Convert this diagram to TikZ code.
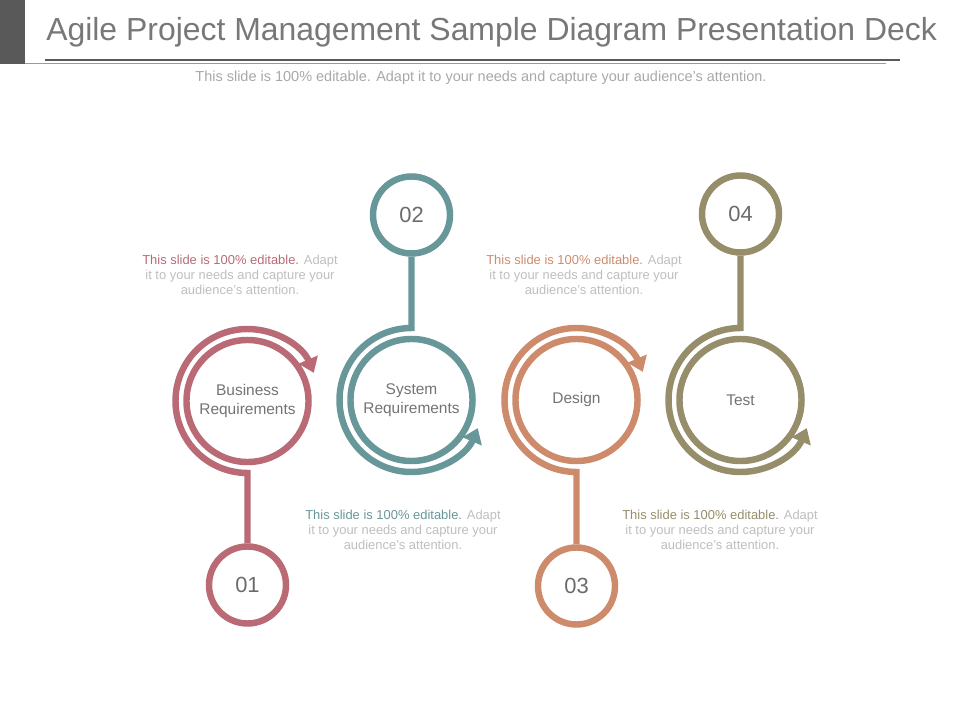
\documentclass[tikz,border=0pt]{standalone}
\usepackage{fontspec}
\setmainfont{Liberation Sans}
\usetikzlibrary{arrows.meta}
\definecolor{pinkc}{HTML}{B96A75}
\definecolor{tealc}{HTML}{68979A}
\definecolor{orangec}{HTML}{CD8B6C}
\definecolor{olivec}{HTML}{968D6A}
\definecolor{bargrey}{HTML}{595959}
\definecolor{titlegrey}{HTML}{787878}
\definecolor{labelgrey}{HTML}{737373}
\definecolor{numgrey}{HTML}{6B6B6B}
\definecolor{lightgrey}{HTML}{BEBEBE}
\definecolor{subgrey}{HTML}{A8A8A8}
\tikzset{
  ring/.style={line width=4.6pt, line join=miter},
  bigring/.style={circle, draw, ring, minimum size=3.05cm, inner sep=0pt,
    text=labelgrey, align=center, font=\fontsize{11}{13.5}\selectfont},
  numring/.style={circle, draw, ring, minimum size=1.925cm, inner sep=0pt,
    text=numgrey, font=\fontsize{15.6}{18}\selectfont},
  blurb/.style={text=lightgrey, align=center, inner sep=0pt,
    font=\fontsize{9.2}{10.6}\selectfont},
  turn/.style={ring, -{Triangle[width=0.5cm,length=0.36cm]}},
}
\begin{document}
\begin{tikzpicture}[x=0.025cm,y=0.025cm]
\useasboundingbox (0,0) rectangle (960,-720);
% header
\fill[bargrey] (0,0) rectangle (25,-64);
\node[anchor=base west, inner sep=0pt, text=titlegrey, font=\fontsize{22.7}{26}\selectfont] (title) at (46,-41) {Agile Project Management Sample Diagram Presentation Deck};
\draw[bargrey, line width=1.3pt] (45,-60) -- (900,-60);
\draw[bargrey!60, line width=0.5pt] (25,-63.5) -- (886,-63.5);
\node[text=subgrey, inner sep=0pt, font=\fontsize{10.3}{12}\selectfont] (sub) at (481,-78) {This slide is 100\% editable. Adapt it to your needs and capture your audience's attention.};

% big rings
\node[bigring, draw=pinkc] (br) at (247.5,-401) {Business\\Requirements};
\node[bigring, draw=tealc] (sr) at (411.5,-400) {System\\Requirements};
\node[bigring, draw=orangec] (de) at (576.5,-400) {Design};
\node[bigring, draw=olivec] (te) at (740.5,-400) {Test};

% number rings
\node[numring, draw=pinkc] (n1) at (247.5,-585) {01};
\node[numring, draw=tealc] (n2) at (411.5,-215) {02};
\node[numring, draw=orangec] (n3) at (576.5,-586) {03};
\node[numring, draw=olivec] (n4) at (740.5,-214) {04};

% stems and outer arcs
\coordinate (b1) at (247.5,-473);
\coordinate (b2) at (411.5,-328);
\coordinate (b3) at (576.5,-472);
\coordinate (b4) at (740.5,-328);
\draw[turn, pinkc] (n1.north) -- (b1) arc[start angle=270, end angle=23, radius=72];
\draw[turn, tealc] (n2.south) -- (b2) arc[start angle=90, end angle=337, radius=72];
\draw[turn, orangec] (n3.north) -- (b3) arc[start angle=270, end angle=23, radius=72];
\draw[turn, olivec] (n4.south) -- (b4) arc[start angle=90, end angle=337, radius=72];

% texts
\node[blurb] (t1) at (240,-275) {\textcolor{pinkc}{This slide is 100\% editable.} Adapt\\it to your needs and capture your\\audience's attention.};
\node[blurb] (t2) at (403,-530) {\textcolor{tealc}{This slide is 100\% editable.} Adapt\\it to your needs and capture your\\audience's attention.};
\node[blurb] (t3) at (584,-275) {\textcolor{orangec}{This slide is 100\% editable.} Adapt\\it to your needs and capture your\\audience's attention.};
\node[blurb] (t4) at (720,-530) {\textcolor{olivec}{This slide is 100\% editable.} Adapt\\it to your needs and capture your\\audience's attention.};
\end{tikzpicture}
\end{document}
